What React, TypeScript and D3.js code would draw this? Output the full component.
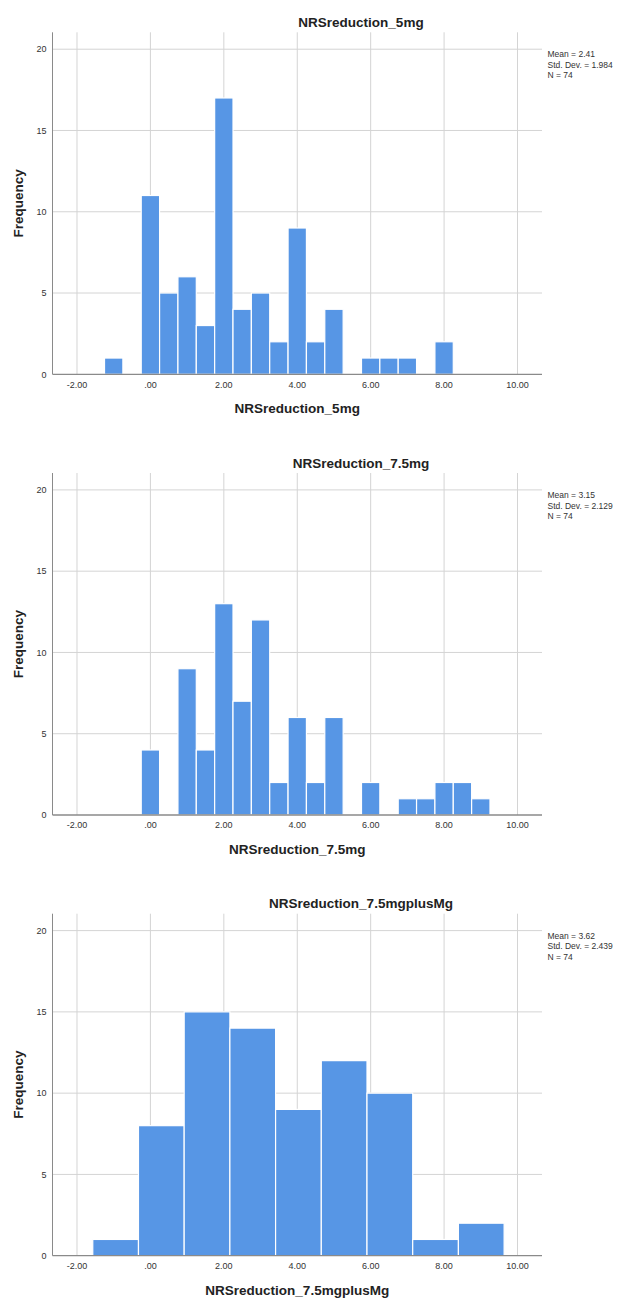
import React from "react";
import * as d3 from "d3";

// ---- data ----
const titles = ["NRSreduction_5mg", "NRSreduction_7.5mg", "NRSreduction_7.5mgplusMg"];
const means = ["2.41", "3.15", "3.62"];
const stdDevs = ["1.984", "2.129", "2.439"];
const ns = ["74", "74", "74"];

const xTicks = [-2, 0, 2, 4, 6, 8, 10];
const xTickLabels = ["-2.00", ".00", "2.00", "4.00", "6.00", "8.00", "10.00"];
const yTicks = [0, 5, 10, 15, 20];

const counts5mg = [1, 0, 11, 5, 6, 3, 17, 4, 5, 2, 9, 2, 4, 0, 1, 1, 1, 0, 2];
const counts75mg = [4, 0, 9, 4, 13, 7, 12, 2, 6, 2, 6, 0, 2, 0, 1, 1, 2, 2, 1];
const counts75mgMg = [1, 8, 15, 14, 9, 12, 10, 1, 2];

const binStarts = [-1.25, -0.25, -1.57];
const binWidths = [0.5, 0.5, 1.245];
const allCounts = [counts5mg, counts75mg, counts75mgMg];

// ---- layout / style ----
const W = 620;
const H = 1299;
const PANEL_STEP = 440.7;
const LEFT = 52.5;
const RIGHT = 542;
const TOP = 32.3;
const BOTTOM = 374.3;
const BAR = "#5796e5";
const GRID = "#d4d4d4";
const AXIS = "#8a8a8a";
const FONT = "'Liberation Sans', Arial, Helvetica, sans-serif";

function Panel({ idx }: { idx: number }) {
  const off = idx * PANEL_STEP;
  const top = TOP + off;
  const bottom = BOTTOM + off;
  const x = d3.scaleLinear().domain([-2.667, 10.667]).range([LEFT, RIGHT]);
  const y = d3.scaleLinear().domain([0, 21.04]).range([bottom, top]);
  const counts = allCounts[idx];
  const bins = counts.map((c, i) => ({
    x0: binStarts[idx] + i * binWidths[idx],
    x1: binStarts[idx] + (i + 1) * binWidths[idx],
    c,
  }));
  const midX = (LEFT + RIGHT) / 2;
  return (
    <g>
      {/* horizontal gridlines */}
      {yTicks.filter((t) => t > 0).map((t) => (
        <line key={"h" + t} x1={LEFT} x2={RIGHT} y1={y(t)} y2={y(t)} stroke={GRID} strokeWidth={1} />
      ))}
      {/* vertical gridlines */}
      {xTicks.map((t) => (
        <line key={"v" + t} x1={x(t)} x2={x(t)} y1={top} y2={bottom} stroke={GRID} strokeWidth={1} />
      ))}
      {/* bars */}
      {bins.filter((b) => b.c > 0).map((b, i) => (
        <rect
          key={"b" + i}
          x={x(b.x0)}
          y={y(b.c)}
          width={x(b.x1) - x(b.x0)}
          height={y(0) - y(b.c)}
          fill={BAR}
          stroke="#ffffff"
          strokeWidth={1.2}
        />
      ))}
      {/* axes */}
      <line x1={LEFT} x2={LEFT} y1={top} y2={bottom} stroke={AXIS} strokeWidth={1} />
      <line x1={LEFT} x2={RIGHT} y1={bottom} y2={bottom} stroke={AXIS} strokeWidth={1.3} />
      {/* y tick labels */}
      {yTicks.map((t) => (
        <text key={"yl" + t} x={46.5} y={y(t) + 3.2} textAnchor="end" fontSize={9} fill="#333" fontFamily={FONT}>
          {t}
        </text>
      ))}
      {/* x tick labels */}
      {xTicks.map((t, i) => (
        <text key={"xl" + t} x={x(t)} y={bottom + 13.3} textAnchor="middle" fontSize={9} fill="#333" fontFamily={FONT}>
          {xTickLabels[i]}
        </text>
      ))}
      {/* title */}
      <text x={361} y={top - 5.5} textAnchor="middle" fontSize={13.5} fontWeight="bold" fill="#222" fontFamily={FONT}>
        {titles[idx]}
      </text>
      {/* x axis label */}
      <text x={midX} y={bottom + 38.8} textAnchor="middle" fontSize={13.5} fontWeight="bold" fill="#222" fontFamily={FONT}>
        {titles[idx]}
      </text>
      {/* y axis label */}
      <text
        transform={`translate(23.3, ${(top + bottom) / 2}) rotate(-90)`}
        textAnchor="middle"
        fontSize={13.5}
        fontWeight="bold"
        fill="#222"
        fontFamily={FONT}
      >
        Frequency
      </text>
      {/* stats */}
      <g fontSize={8.5} fill="#333" fontFamily={FONT}>
        <text x={547.5} y={top + 25}>{`Mean = ${means[idx]}`}</text>
        <text x={547.5} y={top + 35.5}>{`Std. Dev. = ${stdDevs[idx]}`}</text>
        <text x={547.5} y={top + 46}>{`N = ${ns[idx]}`}</text>
      </g>
    </g>
  );
}

export default function App() {
  return (
    <svg
      width={W}
      height={H}
      viewBox={`0 0 ${W} ${H}`}
      style={{ position: "absolute", left: 0, top: 0, background: "#fff" }}
    >
      <rect x={0} y={0} width={W} height={H} fill="#fff" />
      {[0, 1, 2].map((i) => (
        <Panel key={i} idx={i} />
      ))}
    </svg>
  );
}
